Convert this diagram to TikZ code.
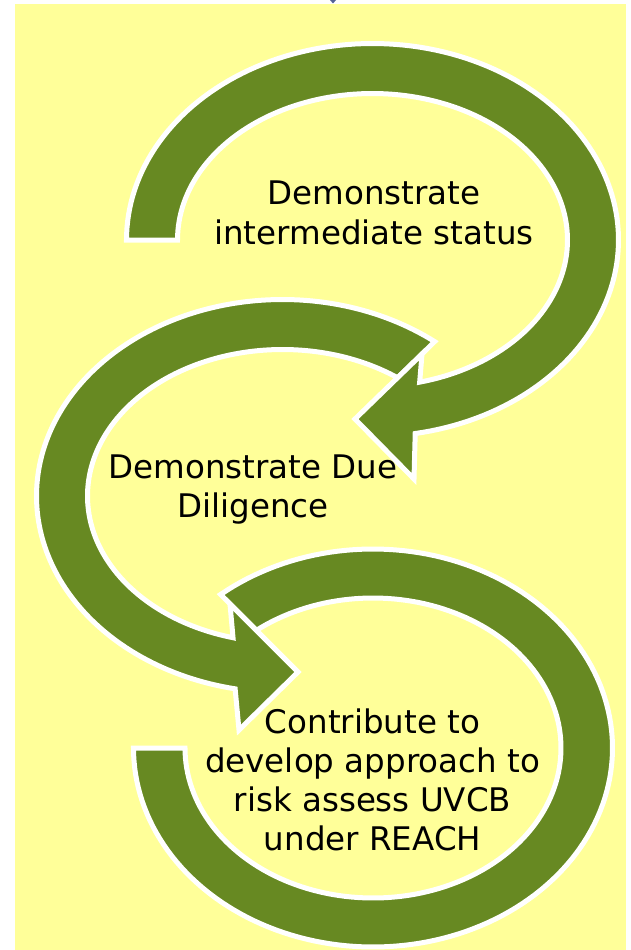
\documentclass[tikz,border=0pt]{standalone}
\usepackage{fontspec}
\setmainfont{DejaVu Sans}
\definecolor{cyclegreen}{RGB}{103,137,34}
\definecolor{paleyellow}{RGB}{255,255,153}
\definecolor{markblue}{RGB}{84,98,150}
\begin{document}
\begin{tikzpicture}[x=1pt,y=-1pt,
  ringarrow/.style={fill=cyclegreen, draw=white, line width=5pt, line join=miter, miter limit=4},
  steplabel/.style={anchor=base, inner sep=0pt, text=black}]
\useasboundingbox (0,0) rectangle (630,950);
\fill[white] (0,0) rectangle (630,950);
\fill[paleyellow] (15,4) rectangle (626,950);
\fill[markblue] (330,0) -- (336,0) -- (333,3.5) -- cycle;

% third ring: tail under the second head, flat end on the left
\path[ringarrow]
  plot[domain=-129.5:180, samples=160, variable=\t] ({373+239.5*cos(\t)},{748+199*sin(\t)})
  -- plot[domain=180:-128.3, samples=160, variable=\t] ({373+188*cos(\t)},{748+150*sin(\t)})
  -- cycle;

% second ring: runs counter-clockwise, head pointing right
\path[ringarrow]
  plot[domain=-51.8:-258.9, samples=140, variable=\t] ({282.5+246*cos(\t)},{496+196.5*sin(\t)})
  -- (239,730) -- (298,672) -- (230,604)
  -- plot[domain=-255.3:-53.8, samples=140, variable=\t] ({282.5+195*cos(\t)},{496+146.5*sin(\t)})
  -- cycle;

% first ring: flat tail on the left, head pointing left
\path[ringarrow]
  plot[domain=180:440, samples=140, variable=\t] ({372.5+246*cos(\t)},{240+196.5*sin(\t)})
  -- (414,479) -- (355,419) -- (422,354)
  -- plot[domain=436:180, samples=140, variable=\t] ({372.5+195*cos(\t)},{240+146.5*sin(\t)})
  -- cycle;

\node[steplabel, font=\fontsize{32.5}{40}\selectfont] (status) at (374,204)
  {\begin{tabular}[t]{@{}c@{}}Demonstrate\\intermediate status\end{tabular}};
\node[steplabel, font=\fontsize{32.5}{39}\selectfont] (diligence) at (253,478)
  {\begin{tabular}[t]{@{}c@{}}Demonstrate Due\\Diligence\end{tabular}};
\node[steplabel, font=\fontsize{32.5}{39}\selectfont] (uvcb) at (372.5,733)
  {\begin{tabular}[t]{@{}c@{}}Contribute to\\develop approach to\\risk assess UVCB\\under REACH\end{tabular}};
\end{tikzpicture}
\end{document}
